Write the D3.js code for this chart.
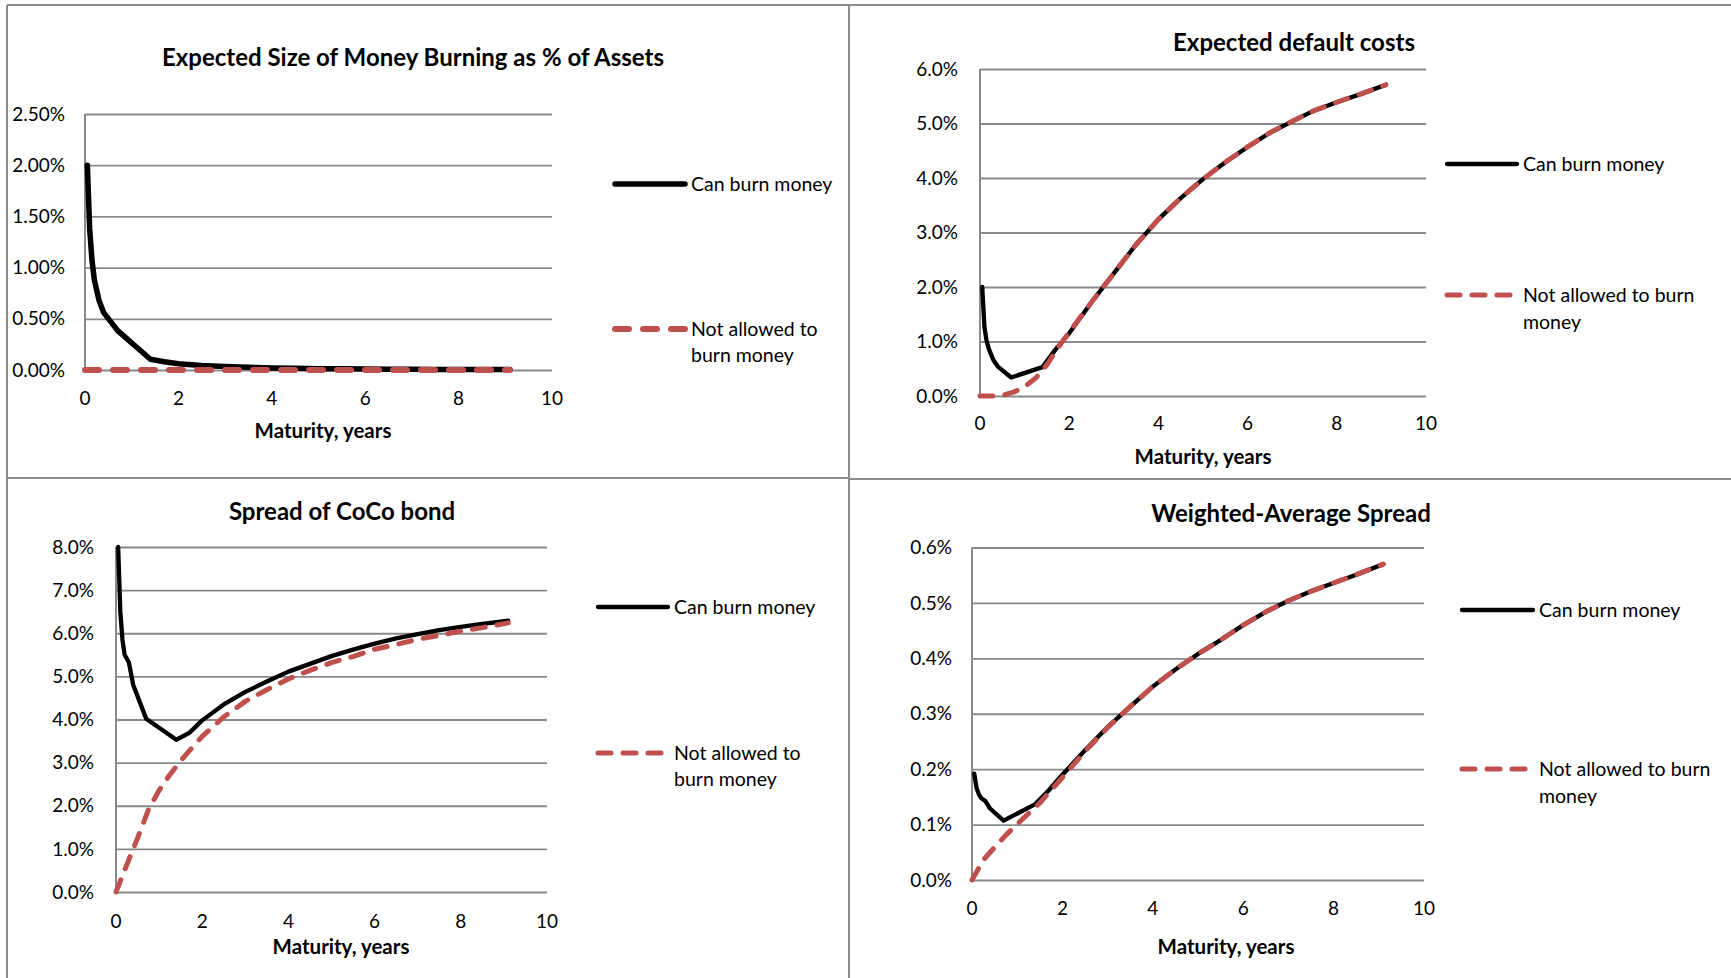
<!DOCTYPE html>
<html><head><meta charset="utf-8">
<script src="https://cdn.jsdelivr.net/npm/d3@7"></script>
<style>
body{margin:0;background:#fff}
svg{display:block}
text{font-family:Lato,"Open Sans",sans-serif;fill:#000}
</style>
</head><body>
<svg id="c" width="1731" height="978"></svg>
<script>
// ---------- DATA ----------
const maturityCan = [0.05,0.1,0.15,0.2,0.3,0.4,0.7,1.4,1.7,2,2.5,3,3.5,4,4.5,5,5.5,6,6.5,7,7.5,8,8.5,9.1];
const maturityNot = [0,0.25,0.5,0.75,1,1.25,1.5,1.75,2,2.5,3,3.5,4,4.5,5,5.5,6,6.5,7,7.5,8,8.5,9.1];

// Expected Size of Money Burning as % of Assets (%)
const moneyBurnCan = [2.0,1.38,1.07,0.88,0.68,0.56,0.385,0.105,0.08,0.062,0.043,0.033,0.026,0.02,0.016,0.013,0.011,0.009,0.008,0.007,0.006,0.005,0.005,0.004];
const moneyBurnNot = [0,0,0,0,0,0,0,0,0,0,0,0,0,0,0,0,0,0,0,0,0,0,0];

// Expected default costs (%)
const defaultCostCan = [2.0,1.26,1.0,0.86,0.66,0.54,0.34,0.53,0.86,1.15,1.72,2.25,2.78,3.24,3.63,3.98,4.29,4.57,4.83,5.04,5.24,5.39,5.53,5.71];
const defaultCostNot = [0,0,0.01,0.07,0.17,0.33,0.57,0.89,1.17,1.72,2.25,2.78,3.24,3.63,3.98,4.29,4.57,4.83,5.04,5.24,5.39,5.53,5.71];

// Spread of CoCo bond (%)
const cocoSpreadCan = [8.0,6.5,5.85,5.5,5.32,4.8,4.02,3.53,3.69,3.98,4.35,4.64,4.88,5.11,5.29,5.47,5.62,5.76,5.88,5.98,6.07,6.15,6.22,6.29];
const cocoSpreadNot = [0,0.63,1.25,1.9,2.36,2.72,3.04,3.33,3.61,4.06,4.42,4.69,4.94,5.14,5.32,5.46,5.63,5.74,5.86,5.95,6.05,6.13,6.24];

// Weighted-Average Spread (%)
const waSpreadCan = [0.192,0.166,0.155,0.148,0.142,0.129,0.107,0.137,0.162,0.19,0.234,0.276,0.313,0.349,0.38,0.408,0.433,0.46,0.484,0.504,0.521,0.536,0.551,0.570];
const waSpreadNot = [0,0.036,0.059,0.081,0.101,0.12,0.139,0.162,0.185,0.232,0.275,0.313,0.349,0.38,0.408,0.433,0.46,0.484,0.504,0.521,0.536,0.551,0.570];

const xTicks = [0,2,4,6,8,10];
const moneyBurnTicks = [0,0.5,1,1.5,2,2.5];
const defaultCostTicks = [0,1,2,3,4,5,6];
const cocoTicks = [0,1,2,3,4,5,6,7,8];
const waTicks = [0,0.1,0.2,0.3,0.4,0.5,0.6];

const titles = ["Expected Size of Money Burning as % of Assets","Expected default costs","Spread of CoCo bond","Weighted-Average Spread"];
const xAxisTitle = "Maturity, years";
const legendCan = "Can burn money";
const legendNotA = ["Not allowed to","burn money"];
const legendNotB = ["Not allowed to burn","money"];

// ---------- LAYOUT ----------
const panels = [
  {title:titles[0], can:moneyBurnCan, not:moneyBurnNot, ticks:moneyBurnTicks, dec:2,
   L:85,R:552,T:114,B:370, tt:[413,58], tlr:65, xty:398, xt:[323,431],
   lg:{x1:615,x2:685,y1:184,tx:691,y2:329,lh:26}, notLines:legendNotA, wCan:5.5, wNot:6, dash:"14,14"},
  {title:titles[1], can:defaultCostCan, not:defaultCostNot, ticks:defaultCostTicks, dec:1,
   L:980,R:1426,T:69,B:396, tt:[1294,43], tlr:958, xty:423, xt:[1203,457],
   lg:{x1:1447,x2:1517,y1:164,tx:1523,y2:295,lh:27}, notLines:legendNotB, wCan:4.3, wNot:5, dash:"13,12"},
  {title:titles[2], can:cocoSpreadCan, not:cocoSpreadNot, ticks:cocoTicks, dec:1,
   L:116,R:547,T:547,B:892, tt:[342,512], tlr:94, xty:921, xt:[341,947],
   lg:{x1:598,x2:668,y1:607,tx:674,y2:753,lh:26}, notLines:legendNotA, wCan:4.3, wNot:5, dash:"13,12"},
  {title:titles[3], can:waSpreadCan, not:waSpreadNot, ticks:waTicks, dec:1,
   L:972,R:1424,T:547.5,B:880, tt:[1291,514], tlr:952, xty:908, xt:[1226,947],
   lg:{x1:1462,x2:1533,y1:610,tx:1539,y2:769,lh:27}, notLines:legendNotB, wCan:4.3, wNot:5, dash:"13,12"}
];

const GRID = "#8a8a8a", BORDER = "#8c8c8c", RED = "#C0504D";
const svg = d3.select("#c");

// panel borders
const borders = [[7,5,1731,5],[7,5,7,978],[849,5,849,978],[7,478,849,478],[849,479,1731,479]];
svg.selectAll("line.border").data(borders).join("line").attr("class","border")
  .attr("x1",d=>d[0]).attr("y1",d=>d[1]).attr("x2",d=>d[2]).attr("y2",d=>d[3])
  .attr("stroke",BORDER).attr("stroke-width",2);

panels.forEach(p=>{
  const g = svg.append("g");
  const ymax = p.ticks[p.ticks.length-1];
  const x = d3.scaleLinear().domain([0,10]).range([p.L,p.R]);
  const y = d3.scaleLinear().domain([0,ymax]).range([p.B,p.T]);
  const fmt = d3.format("."+p.dec+"f");

  // gridlines
  g.append("g").attr("transform",`translate(${p.L},0)`)
    .call(d3.axisLeft(y).tickValues(p.ticks).tickSize(-(p.R-p.L)).tickFormat(""))
    .call(a=>a.select(".domain").remove())
    .call(a=>a.selectAll(".tick line").attr("stroke",GRID).attr("stroke-width",1.8));
  // y axis line
  g.append("line").attr("x1",p.L).attr("x2",p.L).attr("y1",y(ymax)).attr("y2",y(0))
    .attr("stroke",GRID).attr("stroke-width",2);

  // y tick labels
  g.selectAll("text.yl").data(p.ticks).join("text").attr("class","yl")
    .attr("x",p.tlr).attr("y",d=>y(d)).attr("dy","0.35em").attr("text-anchor","end")
    .style("font-size","19px").text(d=>fmt(d)+"%");
  // x tick labels
  g.selectAll("text.xl").data(xTicks).join("text").attr("class","xl")
    .attr("x",d=>x(d)).attr("y",p.xty).attr("dy","0.35em").attr("text-anchor","middle")
    .style("font-size","19px").text(d=>d);
  // titles
  g.append("text").attr("x",p.tt[0]).attr("y",p.tt[1]).attr("dy","0.35em").attr("text-anchor","middle")
    .style("font-size","24px").style("font-weight","bold").text(p.title);
  g.append("text").attr("x",p.xt[0]).attr("y",p.xt[1]).attr("dy","0.35em").attr("text-anchor","middle")
    .style("font-size","20.5px").style("font-weight","bold").text(xAxisTitle);

  // series
  const lineCan = d3.line().x((d,i)=>x(maturityCan[i])).y(d=>y(d));
  const lineNot = d3.line().x((d,i)=>x(maturityNot[i])).y(d=>y(d));
  g.append("path").datum(p.can).attr("d",lineCan).attr("fill","none")
    .attr("stroke","#000").attr("stroke-width",p.wCan).attr("stroke-linejoin","round").attr("stroke-linecap","round");
  g.append("path").datum(p.not).attr("d",lineNot).attr("fill","none")
    .attr("stroke",RED).attr("stroke-width",p.wNot).attr("stroke-dasharray",p.dash)
    .attr("stroke-linejoin","round").attr("stroke-linecap","round");

  // legend
  const lg = p.lg;
  g.append("line").attr("x1",lg.x1).attr("x2",lg.x2).attr("y1",lg.y1).attr("y2",lg.y1)
    .attr("stroke","#000").attr("stroke-width",p.wCan).attr("stroke-linecap","round");
  g.append("text").attr("x",lg.tx).attr("y",lg.y1).attr("dy","0.35em").style("font-size","19.5px").text(legendCan);
  g.append("line").attr("x1",lg.x1).attr("x2",lg.x2).attr("y1",lg.y2).attr("y2",lg.y2)
    .attr("stroke",RED).attr("stroke-width",p.wNot).attr("stroke-dasharray",p.dash).attr("stroke-linecap","round");
  g.selectAll("text.ln").data(p.notLines).join("text").attr("class","ln")
    .attr("x",lg.tx).attr("y",(d,i)=>lg.y2+i*lg.lh).attr("dy","0.35em").style("font-size","19.5px").text(d=>d);
});
</script>
</body></html>
